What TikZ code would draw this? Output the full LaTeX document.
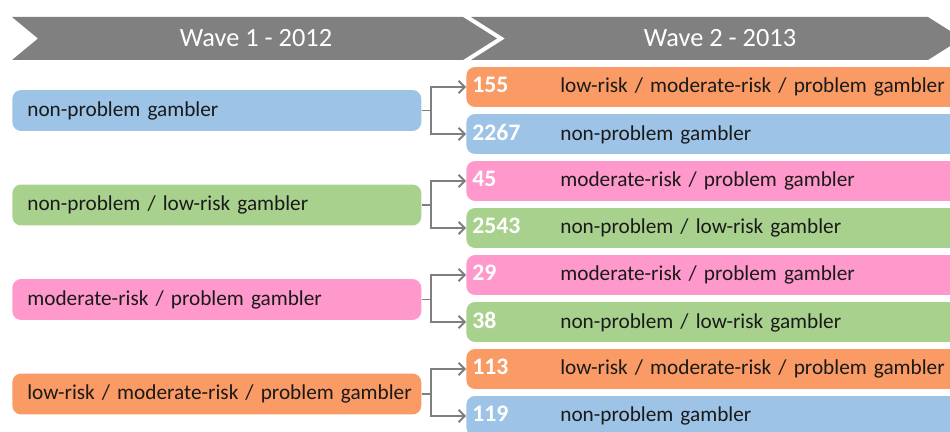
\documentclass[tikz,border=0pt]{standalone}
\usepackage{fontspec}
\setmainfont{Carlito}
\usetikzlibrary{arrows.meta}
\definecolor{bandgray}{HTML}{808080}
\definecolor{linkgray}{HTML}{7F7F7F}
\definecolor{npblue}{HTML}{9DC3E6}
\definecolor{lrgreen}{HTML}{A9D18E}
\definecolor{mrpink}{HTML}{FF99CC}
\definecolor{lmporange}{HTML}{FA9A64}
\definecolor{labeltext}{HTML}{1A1A1A}
\newcommand{\wavecount}[1]{\makebox[1.76cm][l]{\color{white}\fontsize{13.5}{15}\selectfont\bfseries #1}}

\begin{document}
\begin{tikzpicture}[x=0.02cm,y=-0.02cm,font=\fontsize{12.1}{15}\selectfont,
    wave/.style={text=white,font=\fontsize{15}{18}\selectfont},
    oldgroup/.style={anchor=west,rounded corners=5pt,inner xsep=0.12cm,inner ysep=0pt,
      text width=7.94cm,align=left,minimum height=0.82cm,text=labeltext,
      execute at begin node=\hspace*{0.18cm}},
    newgroup/.style={anchor=west,rounded corners=5pt,inner xsep=0.12cm,inner ysep=0pt,
      text width=9.76cm,align=left,minimum height=0.8cm,text=labeltext},
    link/.style={draw=linkgray,line width=1.1pt,-{Straight Barb[length=3.5pt,width=7pt]}}]
    \clip (0,0) rectangle (950,432);
    % header bands
    \fill[bandgray] (12,17) -- (463,17) -- (497,38.5) -- (463,60) -- (12,60) -- (38,38.5) -- cycle;
    \fill[bandgray] (471,17) -- (928,17) -- (962,38.5) -- (928,60) -- (471,60) -- (505,38.5) -- cycle;
    \node[wave] (w1) at (256,38.5) {Wave 1 - 2012};
    \node[wave] (w2) at (720,38.5) {Wave 2 - 2013};
    % wave 1 groups
    \node[oldgroup,fill=npblue] (l1) at (12,110.5) {non-problem gambler};
    \node[oldgroup,fill=lrgreen] (l2) at (12,205) {non-problem / low-risk gambler};
    \node[oldgroup,fill=mrpink] (l3) at (12,299.5) {moderate-risk / problem gambler};
    \node[oldgroup,fill=lmporange] (l4) at (12,394) {low-risk / moderate-risk / problem gambler};
    % wave 2 groups
    \node[newgroup,fill=lmporange] (r1) at (466,87) {\wavecount{155}low-risk / moderate-risk / problem gambler};
    \node[newgroup,fill=npblue] (r2) at (466,134) {\wavecount{2267}non-problem gambler};
    \node[newgroup,fill=mrpink] (r3) at (466,181) {\wavecount{45}moderate-risk / problem gambler};
    \node[newgroup,fill=lrgreen] (r4) at (466,228) {\wavecount{2543}non-problem / low-risk gambler};
    \node[newgroup,fill=mrpink] (r5) at (466,275) {\wavecount{29}moderate-risk / problem gambler};
    \node[newgroup,fill=lrgreen] (r6) at (466,322) {\wavecount{38}non-problem / low-risk gambler};
    \node[newgroup,fill=lmporange] (r7) at (466,369) {\wavecount{113}low-risk / moderate-risk / problem gambler};
    \node[newgroup,fill=npblue] (r8) at (466,416) {\wavecount{119}non-problem gambler};
    % transitions
    \foreach \l/\a/\b in {l1/r1/r2,l2/r3/r4,l3/r5/r6,l4/r7/r8} {
      \draw[link] (\l.east) -- ++(9,0) |- (\a.west);
      \draw[link] (\l.east) -- ++(9,0) |- (\b.west);
    }
  \end{tikzpicture}
\end{document}
